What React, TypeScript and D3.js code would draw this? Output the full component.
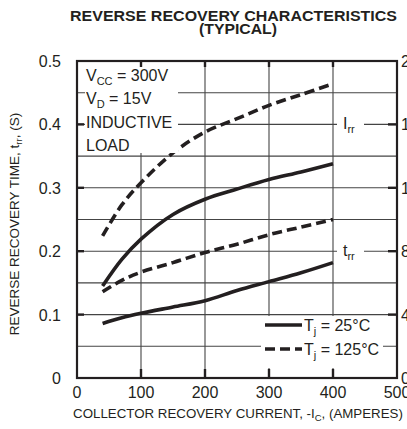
import React from "react";
import * as d3 from "d3";

// collector current (A)
const current = [40, 70, 100, 150, 200, 250, 300, 350, 400];
// values, plotted on the left (seconds) scale
const irr125 = [0.224, 0.273, 0.308, 0.355, 0.388, 0.409, 0.43, 0.447, 0.464];
const irr25 = [0.145, 0.187, 0.219, 0.258, 0.282, 0.298, 0.313, 0.325, 0.338];
const trr125 = [0.136, 0.154, 0.167, 0.182, 0.198, 0.211, 0.226, 0.238, 0.25];
const trr25 = [0.086, 0.095, 0.102, 0.112, 0.122, 0.138, 0.152, 0.166, 0.182];

const xTicks = [0, 100, 200, 300, 400, 500];
const yTicks = [0, 0.1, 0.2, 0.3, 0.4, 0.5];
const yGrid = [0.05, 0.1, 0.15, 0.2, 0.25, 0.3, 0.35, 0.4, 0.45];
const rightLabels = ["0", "4", "8", "12", "16", "20"];

const W = 407,
  H = 429;
const margin = { left: 77, right: 10, top: 61, bottom: 51 };

const font = "'Liberation Sans', Arial, Helvetica, sans-serif";

export default function App() {
  const x = d3
    .scaleLinear()
    .domain([0, 500])
    .range([margin.left, W - margin.right]);
  const y = d3
    .scaleLinear()
    .domain([0, 0.5])
    .range([H - margin.bottom, margin.top]);

  const line = d3
    .line<number>()
    .x((d, i) => x(current[i]))
    .y((d) => y(d))
    .curve(d3.curveCatmullRom.alpha(0.5));

  const series = [
    { values: irr125, dash: "10,5" },
    { values: irr25, dash: null },
    { values: trr125, dash: "10,5" },
    { values: trr25, dash: null },
  ];

  const x0 = x(0),
    x1 = x(500),
    y0 = y(0),
    y1 = y(0.5);

  return (
    <svg
      width={W}
      height={H}
      style={{ position: "absolute", left: 0, top: 0, background: "#fff" }}
      fontFamily={font}
    >
      {/* title */}
      <text
        x={70}
        y={21}
        fontSize={14.5}
        fontWeight="bold"
        fill="#231f20"
        textLength={327}
        lengthAdjust="spacingAndGlyphs"
      >
        REVERSE RECOVERY CHARACTERISTICS
      </text>
      <text
        x={199}
        y={34}
        fontSize={14.5}
        fontWeight="bold"
        fill="#231f20"
        textLength={78}
        lengthAdjust="spacingAndGlyphs"
      >
        (TYPICAL)
      </text>

      {/* grid */}
      {yGrid.map((v) => (
        <line key={"gy" + v} x1={x0} x2={x1} y1={y(v)} y2={y(v)} stroke="#444" strokeWidth={1.1} />
      ))}
      {[100, 200, 300, 400].map((v) => (
        <line key={"gx" + v} x1={x(v)} x2={x(v)} y1={y0} y2={y1} stroke="#444" strokeWidth={1.1} />
      ))}

      {/* curves */}
      {series.map((s, i) => (
        <path
          key={i}
          d={line(s.values) || ""}
          fill="none"
          stroke="#231f20"
          strokeWidth={3.6}
          strokeDasharray={s.dash || undefined}
        />
      ))}

      {/* condition box */}
      <rect x={85} y={66} width={93} height={87} fill="#fff" />
      <g fontSize={16} fill="#231f20">
        <text x={86} y={81}>
          V<tspan fontSize={11} dy={4}>CC</tspan>
          <tspan dy={-4}> = 300V</tspan>
        </text>
        <text x={86} y={104}>
          V<tspan fontSize={11} dy={4}>D</tspan>
          <tspan dy={-4}> = 15V</tspan>
        </text>
        <text x={86} y={128}>INDUCTIVE</text>
        <text x={86} y={151}>LOAD</text>
      </g>

      {/* curve labels */}
      <rect x={337} y={112} width={27} height={24} fill="#fff" />
      <text x={343} y={129} fontSize={16} fill="#231f20">
        I<tspan fontSize={11} dy={4}>rr</tspan>
      </text>
      <rect x={337} y={239} width={27} height={24} fill="#fff" />
      <text x={343} y={256} fontSize={16} fill="#231f20">
        t<tspan fontSize={11} dy={4}>rr</tspan>
      </text>

      {/* legend */}
      <rect x={261} y={316} width={122} height={52} fill="#fff" />
      <line x1={265} x2={302} y1={325} y2={325} stroke="#231f20" strokeWidth={3.6} />
      <line x1={265} x2={302} y1={349} y2={349} stroke="#231f20" strokeWidth={3.6} strokeDasharray="10,5" />
      <g fontSize={16} fill="#231f20">
        <text x={304} y={331}>
          T<tspan fontSize={11} dy={4}>j</tspan>
          <tspan dy={-4}> = 25°C</tspan>
        </text>
        <text x={304} y={355}>
          T<tspan fontSize={11} dy={4}>j</tspan>
          <tspan dy={-4}> = 125°C</tspan>
        </text>
      </g>

      {/* frame */}
      <rect x={x0} y={y1} width={x1 - x0} height={y0 - y1} fill="none" stroke="#231f20" strokeWidth={2.2} />

      {/* inner major ticks */}
      {[100, 200, 300, 400].map((v) => (
        <g key={"tx" + v}>
          <line x1={x(v)} x2={x(v)} y1={y0} y2={y0 - 9} stroke="#231f20" strokeWidth={2.4} />
          <line x1={x(v)} x2={x(v)} y1={y1} y2={y1 + 6} stroke="#231f20" strokeWidth={2.4} />
        </g>
      ))}
      {[0.1, 0.2, 0.3, 0.4].map((v) => (
        <g key={"ty" + v}>
          <line x1={x0} x2={x0 + 7} y1={y(v)} y2={y(v)} stroke="#231f20" strokeWidth={2.4} />
          <line x1={x1} x2={x1 - 9} y1={y(v)} y2={y(v)} stroke="#231f20" strokeWidth={2.4} />
        </g>
      ))}

      {/* tick labels */}
      <g fontSize={16} fill="#231f20">
        {yTicks.map((v) => (
          <text key={"ly" + v} x={61} y={y(v) + 6} textAnchor="end">
            {v === 0 ? "0" : d3.format(".1f")(v)}
          </text>
        ))}
        {xTicks.map((v) => (
          <text key={"lx" + v} x={x(v)} y={398} textAnchor="middle">
            {v}
          </text>
        ))}
        {yTicks.map((v, i) => (
          <text key={"lr" + v} x={401} y={y(v) + 6}>
            {rightLabels[i]}
          </text>
        ))}
      </g>

      {/* axis titles */}
      <text x={238} y={418} textAnchor="middle" fontSize={13.3} fill="#231f20">
        COLLECTOR RECOVERY CURRENT, -I<tspan fontSize={9.5} dy={3}>C</tspan>
        <tspan dy={-3}>, (AMPERES)</tspan>
      </text>
      <text
        transform={`translate(19, 224) rotate(-90)`}
        textAnchor="middle"
        fontSize={13.5}
        fill="#231f20"
      >
        REVERSE RECOVERY TIME, t<tspan fontSize={9.5} dy={3}>rr</tspan>
        <tspan dy={-3}>, (S)</tspan>
      </text>
    </svg>
  );
}
